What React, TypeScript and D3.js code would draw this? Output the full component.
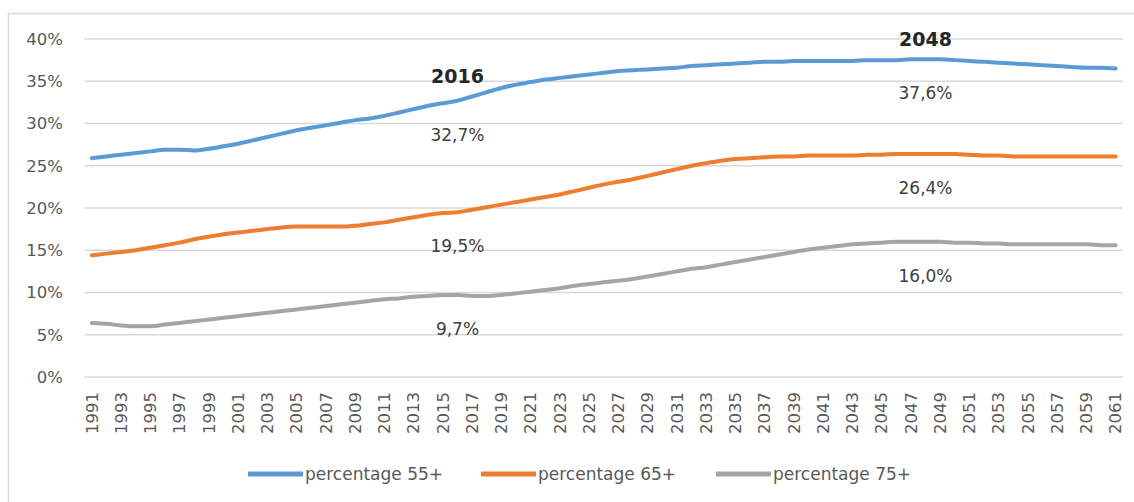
import React from 'react';
import * as d3 from 'd3';

const years = d3.range(1991, 2062);

const pct55 = [
  25.9, 26.1, 26.3, 26.5, 26.7, 26.9, 26.9, 26.8, 27.0, 27.3,
  27.6, 28.0, 28.4, 28.8, 29.2, 29.5, 29.8, 30.1, 30.4, 30.6,
  30.9, 31.3, 31.7, 32.1, 32.4, 32.7, 33.2, 33.7, 34.2, 34.6,
  34.9, 35.2, 35.4, 35.6, 35.8, 36.0, 36.2, 36.3, 36.4, 36.5,
  36.6, 36.8, 36.9, 37.0, 37.1, 37.2, 37.3, 37.3, 37.4, 37.4,
  37.4, 37.4, 37.4, 37.5, 37.5, 37.5, 37.6, 37.6, 37.6, 37.5,
  37.4, 37.3, 37.2, 37.1, 37.0, 36.9, 36.8, 36.7, 36.6, 36.6,
  36.5,
];

const pct65 = [
  14.4, 14.6, 14.8, 15.0, 15.3, 15.6, 15.9, 16.3, 16.6, 16.9,
  17.1, 17.3, 17.5, 17.7, 17.8, 17.8, 17.8, 17.8, 17.9, 18.1,
  18.3, 18.6, 18.9, 19.2, 19.4, 19.5, 19.8, 20.1, 20.4, 20.7,
  21.0, 21.3, 21.6, 22.0, 22.4, 22.8, 23.1, 23.4, 23.8, 24.2,
  24.6, 25.0, 25.3, 25.6, 25.8, 25.9, 26.0, 26.1, 26.1, 26.2,
  26.2, 26.2, 26.2, 26.3, 26.3, 26.4, 26.4, 26.4, 26.4, 26.4,
  26.3, 26.2, 26.2, 26.1, 26.1, 26.1, 26.1, 26.1, 26.1, 26.1,
  26.1,
];

const pct75 = [
  6.4, 6.3, 6.1, 6.0, 6.0, 6.2, 6.4, 6.6, 6.8, 7.0,
  7.2, 7.4, 7.6, 7.8, 8.0, 8.2, 8.4, 8.6, 8.8, 9.0,
  9.2, 9.3, 9.5, 9.6, 9.7, 9.7, 9.6, 9.6, 9.7, 9.9,
  10.1, 10.3, 10.5, 10.8, 11.0, 11.2, 11.4, 11.6, 11.9, 12.2,
  12.5, 12.8, 13.0, 13.3, 13.6, 13.9, 14.2, 14.5, 14.8, 15.1,
  15.3, 15.5, 15.7, 15.8, 15.9, 16.0, 16.0, 16.0, 16.0, 15.9,
  15.9, 15.8, 15.8, 15.7, 15.7, 15.7, 15.7, 15.7, 15.7, 15.6,
  15.6,
];

const yTicks = [0, 5, 10, 15, 20, 25, 30, 35, 40];
const markedYears = [2016, 2048];

const series = [
  { name: 'percentage 55+', values: pct55, color: '#5b9bd5' },
  { name: 'percentage 65+', values: pct65, color: '#ed7d31' },
  { name: 'percentage 75+', values: pct75, color: '#a5a5a5' },
];

const W = 1134;
const H = 502;
const FONT = '"DejaVu Sans", sans-serif';

export default function App() {
  const x = d3.scaleBand<number>().domain(years).range([84.5, 1123]);
  const y = d3.scaleLinear().domain([0, 40]).range([377, 39]);
  const cx = (yr: number) => (x(yr) ?? 0) + x.bandwidth() / 2;

  const line = d3
    .line<number>()
    .x((_, i) => cx(years[i]))
    .y((d) => y(d))
    .curve(d3.curveMonotoneX);

  const fmt = (v: number) => d3.format('.1f')(v).replace('.', ',') + '%';

  const legendX = [248, 481, 716];

  return (
    <div style={{ position: 'absolute', left: 0, top: 0 }}>
      <svg width={W} height={H} style={{ display: 'block', background: '#fff' }}>
        <rect x={8.5} y={13.5} width={W + 10} height={H + 10} fill="none" stroke="#d9d9d9" strokeWidth={1.5} />

        {yTicks.map((t) => (
          <g key={t}>
            <line x1={84.5} x2={1123} y1={y(t)} y2={y(t)} stroke="#d9d9d9" strokeWidth={1.3} />
            <text x={63} y={y(t)} dy="0.35em" textAnchor="end" fontFamily={FONT} fontSize={16.5} fill="#595959">
              {t}%
            </text>
          </g>
        ))}

        {years
          .filter((yr) => (yr - 1991) % 2 === 0)
          .map((yr) => (
            <text
              key={yr}
              transform={`translate(${cx(yr)},392) rotate(-90)`}
              textAnchor="end"
              dy="0.35em"
              fontFamily={FONT}
              fontSize={16.5}
              fill="#595959"
            >
              {yr}
            </text>
          ))}

        {series.map((s) => (
          <path
            key={s.name}
            d={line(s.values) ?? ''}
            fill="none"
            stroke={s.color}
            strokeWidth={4}
            strokeLinecap="round"
            strokeLinejoin="round"
          />
        ))}

        {markedYears.map((yr) => {
          const i = years.indexOf(yr);
          return (
            <g key={yr}>
              <text
                x={cx(yr)}
                y={yr === 2016 ? 83 : 46}
                textAnchor="middle"
                fontFamily={FONT}
                fontWeight="bold"
                fontSize={19}
                fill="#262626"
              >
                {yr}
              </text>
              {series.map((s) => (
                <text
                  key={s.name}
                  x={cx(yr)}
                  y={y(s.values[i]) + 40}
                  textAnchor="middle"
                  fontFamily={FONT}
                  fontSize={17}
                  fill="#404040"
                >
                  {fmt(s.values[i])}
                </text>
              ))}
            </g>
          );
        })}

        {series.map((s, i) => (
          <g key={s.name} transform={`translate(${legendX[i]},474)`}>
            <line x1={0} x2={55} y1={0} y2={0} stroke={s.color} strokeWidth={5} />
            <text x={57} y={0} dy="0.35em" fontFamily={FONT} fontSize={17} fill="#595959">
              {s.name}
            </text>
          </g>
        ))}
      </svg>
    </div>
  );
}
